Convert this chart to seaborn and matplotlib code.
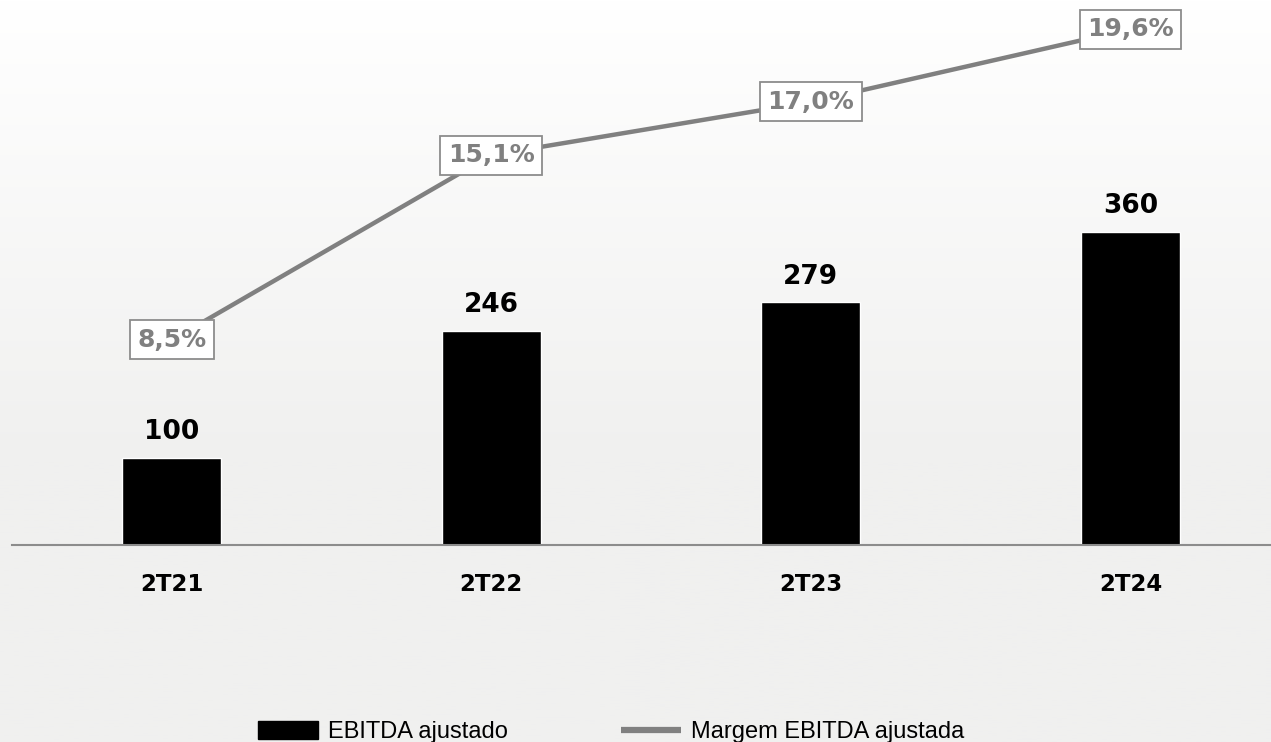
import numpy as np
import pandas as pd
import matplotlib.pyplot as plt
import seaborn as sns
from matplotlib.lines import Line2D
from matplotlib.patches import Patch

# data
quarters = ["2T21", "2T22", "2T23", "2T24"]
ebitda = [100, 246, 279, 360]
margin = [8.5, 15.1, 17.0, 19.6]
margin_labels = ["8,5%", "15,1%", "17,0%", "19,6%"]

df = pd.DataFrame({"quarter": quarters, "ebitda": ebitda, "margin": margin})

sns.set_theme(style="white")
plt.rcParams["font.family"] = ["DejaVu Sans"]

fig = plt.figure(figsize=(12.71, 7.42), dpi=100)

# soft grey gradient background
bg = fig.add_axes([0, 0, 1, 1], zorder=-10)
grad = np.linspace(0, 1, 256).reshape(-1, 1)
grad = np.clip(grad * 1.6, 0, 1)
bg.imshow(grad, aspect="auto", cmap=sns.blend_palette(["#ffffff", "#f0f0ef"], as_cmap=True),
          extent=[0, 1, 0, 1], origin="upper")
bg.axis("off")

ax = fig.add_axes([12 / 1271, 197 / 742, 1259 / 1271, 545 / 742])
ax.set_facecolor("none")

sns.barplot(data=df, x="quarter", y="ebitda", color="black", width=0.31,
            saturation=1, ax=ax)
for i, v in enumerate(ebitda):
    ax.annotate(str(v), (i, v), xytext=(0, 9), textcoords="offset points",
                ha="center", va="bottom", fontsize=19, fontweight="bold", color="black")

ax.set_xlim(-0.5, 3.44)
ax.set_ylim(0, 626)
ax.set_xlabel("")
ax.set_ylabel("")
ax.set_yticks([])
for s in ["top", "left", "right"]:
    ax.spines[s].set_visible(False)
ax.spines["bottom"].set_color("#8c8c8c")
ax.spines["bottom"].set_linewidth(1.5)
ax.tick_params(axis="x", length=0, pad=20)
for t in ax.get_xticklabels():
    t.set_fontsize(16.5)
    t.set_fontweight("bold")
    t.set_color("black")

ax2 = ax.twinx()
ax2.set_facecolor("none")
sns.lineplot(x=list(range(len(quarters))), y=margin, color="#808080", linewidth=3.2,
             ax=ax2, legend=False)
for i, (v, lab) in enumerate(zip(margin, margin_labels)):
    ax2.text(i, v, lab, ha="center", va="center", fontsize=18, fontweight="bold",
             color="#808080", zorder=5,
             bbox=dict(boxstyle="square,pad=0.3", facecolor="white",
                       edgecolor="#8c8c8c", linewidth=1.3))
ax2.set_ylim(1.18, 20.64)
ax2.set_yticks([])
ax2.set_ylabel("")
for s in ax2.spines.values():
    s.set_visible(False)

handles = [Patch(facecolor="black", edgecolor="black"),
           Line2D([0], [0], color="#808080", linewidth=4.5, solid_capstyle="butt")]
leg = fig.legend(handles, ["EBITDA ajustado", "Margem EBITDA ajustada"], ncol=2,
                 loc="center left", bbox_to_anchor=(246 / 1271, 1 - 732 / 742),
                 frameon=False, handlelength=2.55, handleheight=0.8,
                 handletextpad=0.42, columnspacing=4.8, borderpad=0,
                 prop={"family": "Liberation Sans", "size": 17})
for t in leg.get_texts():
    t.set_color("black")

fig.savefig("out.png", dpi=100)
